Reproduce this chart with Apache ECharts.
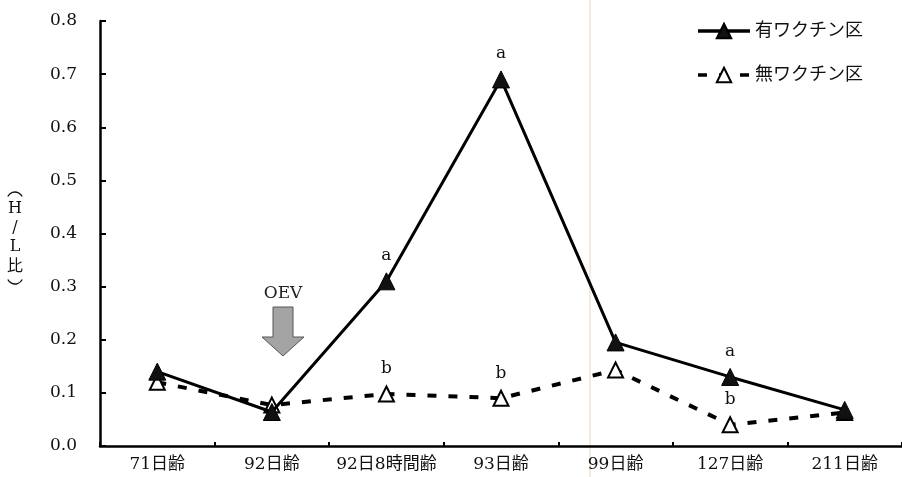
<!DOCTYPE html>
<html>
<head>
<meta charset="utf-8">
<script src="https://cdn.jsdelivr.net/npm/echarts@6/dist/echarts.min.js"></script>
<style>
  html, body { margin: 0; padding: 0; background: #fff; }
  #chart { width: 902px; height: 477px; }
</style>
</head>
<body>
<div id="chart"></div>
<script>
// Ages at sampling
const categories = ['71日齢', '92日齢', '92日8時間齢', '93日齢', '99日齢', '127日齢', '211日齢'];
// H/L ratio per group
const vaccinated = [0.14, 0.064, 0.31, 0.69, 0.195, 0.13, 0.068];
const unvaccinated = [0.12, 0.077, 0.098, 0.09, 0.143, 0.04, 0.063];
// Significance letters (empty = none)
const vaccinatedMarks = ['', '', 'a', 'a', '', 'a', ''];
const unvaccinatedMarks = ['', '', 'b', 'b', '', 'b', ''];
const yTicks = [0, 0.1, 0.2, 0.3, 0.4, 0.5, 0.6, 0.7, 0.8];

const serif = '"DejaVu Serif", "Noto Sans CJK JP", serif';

const chart = echarts.init(document.getElementById('chart'));

function withMarks(values, marks) {
  return values.map((v, i) => ({
    value: v,
    label: { show: marks[i] !== '', formatter: marks[i] }
  }));
}

chart.setOption({
  backgroundColor: '#fff',
  animation: false,
  grid: { left: 100, top: 21, width: 806, bottom: 31, containLabel: false },
  legend: {
    orient: 'vertical',
    right: 34,
    top: 17,
    itemGap: 26,
    itemWidth: 52,
    itemHeight: 18,
    lineStyle: { width: 3.5 },
    textStyle: { fontFamily: serif, fontSize: 18, color: '#111' },
    data: ['有ワクチン区', '無ワクチン区']
  },
  xAxis: {
    type: 'category',
    data: categories,
    boundaryGap: true,
    axisLine: { lineStyle: { color: '#000', width: 2.5 } },
    axisTick: { show: true, inside: true, length: 4, lineStyle: { color: '#000', width: 2 } },
    axisLabel: { interval: 0, fontFamily: serif, fontSize: 17, color: '#111', margin: 10 },
    splitLine: { show: false }
  },
  yAxis: {
    type: 'value',
    min: 0,
    max: 0.8,
    interval: 0.1,
    axisLine: { show: true, lineStyle: { color: '#000', width: 2.5 } },
    axisTick: { show: true, inside: true, length: 6, lineStyle: { color: '#000', width: 2 } },
    axisLabel: {
      fontFamily: serif, fontSize: 17, color: '#111', margin: 23,
      formatter: v => yTicks.includes(Math.round(v * 10) / 10) ? v.toFixed(1) : ''
    },
    splitLine: { show: false }
  },
  series: [
    {
      name: '有ワクチン区',
      type: 'line',
      data: withMarks(vaccinated, vaccinatedMarks),
      symbol: 'triangle',
      symbolSize: 17,
      lineStyle: { color: '#000', width: 3 },
      itemStyle: { color: '#111', borderColor: '#000', borderWidth: 1 },
      label: { position: 'top', distance: 8, fontFamily: serif, fontSize: 17, color: '#111' },
      z: 3
    },
    {
      name: '無ワクチン区',
      type: 'line',
      data: withMarks(unvaccinated, unvaccinatedMarks),
      symbol: 'triangle',
      symbolSize: 15,
      lineStyle: { color: '#000', width: 4, type: [9, 12] },
      itemStyle: { color: '#fff', borderColor: '#000', borderWidth: 2 },
      label: { position: 'top', distance: 8, fontFamily: serif, fontSize: 17, color: '#111' },
      z: 2
    }
  ],
  graphic: [
    // faint fold line across the sheet
    { type: 'line', shape: { x1: 590, y1: 0, x2: 590, y2: 477 }, style: { stroke: '#efe4d6', lineWidth: 1.5 }, z: 0 },
    // vertical y-axis title: upright letters between turned parentheses
    { type: 'arc', shape: { cx: 15, cy: 200, r: 8, startAngle: Math.PI + 0.45, endAngle: 2 * Math.PI - 0.45 },
      style: { stroke: '#111', lineWidth: 1.3, fill: null } },
    { type: 'text', x: 15, y: 199,
      style: { text: 'H\n/\nL', fontFamily: serif, fontSize: 16, lineHeight: 19, fill: '#111', align: 'center', verticalAlign: 'top' } },
    { type: 'text', x: 15, y: 257,
      style: { text: '比', fontFamily: '"Noto Sans CJK JP", sans-serif', fontSize: 16, fill: '#111', align: 'center', verticalAlign: 'top' } },
    { type: 'arc', shape: { cx: 15, cy: 276, r: 8, startAngle: 0.45, endAngle: Math.PI - 0.45 },
      style: { stroke: '#111', lineWidth: 1.3, fill: null } },
    // OEV injection marker
    { type: 'text', x: 283, y: 294, style: { text: 'OEV', fontFamily: serif, fontSize: 17, fill: '#222', align: 'center', verticalAlign: 'middle' } },
    {
      type: 'polygon',
      shape: { points: [[273, 307], [293, 307], [293, 337], [304, 337], [283, 356], [262, 337], [273, 337]] },
      style: { fill: '#a4a4a4', stroke: '#555', lineWidth: 1 }
    }
  ]
});
</script>
</body>
</html>
